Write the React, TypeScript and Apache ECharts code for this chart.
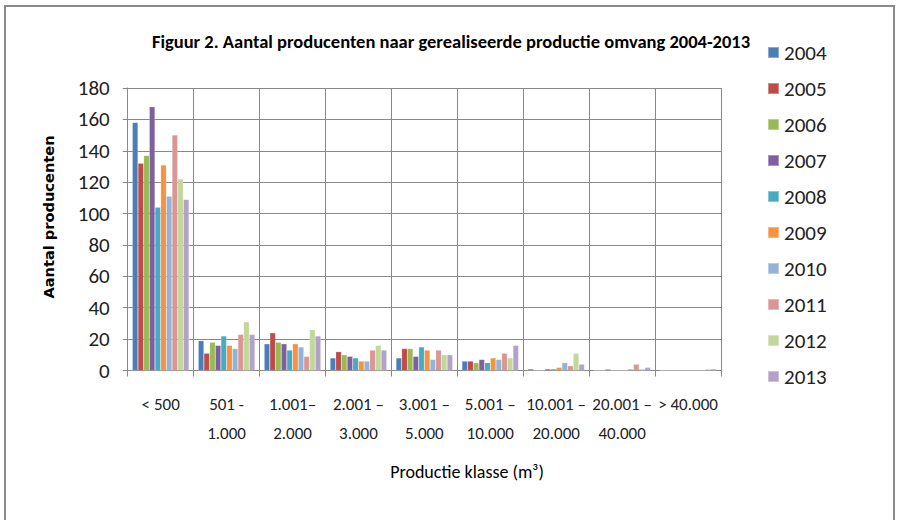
import React, { useEffect, useRef } from "react";
import * as echarts from "echarts";

const categories = [
  "< 500",
  "501 -\n1.000",
  "1.001–\n2.000",
  "2.001 –\n3.000",
  "3.001 –\n5.000",
  "5.001 –\n10.000",
  "10.001 –\n20.000",
  "20.001 –\n40.000",
  "> 40.000",
];

const years = ["2004", "2005", "2006", "2007", "2008", "2009", "2010", "2011", "2012", "2013"];

const v2004 = [158, 19, 17, 8, 8, 6, 1, 0, 0];
const v2005 = [132, 11, 24, 12, 14, 6, 0, 0, 0];
const v2006 = [137, 18, 18, 10, 14, 5, 0, 1, 0];
const v2007 = [168, 16, 17, 9, 9, 7, 1, 0, 0];
const v2008 = [104, 22, 13, 8, 15, 5, 1, 0, 0];
const v2009 = [131, 16, 17, 6, 13, 8, 2, 0, 0];
const v2010 = [111, 14, 15, 6, 7, 7, 5, 1, 0];
const v2011 = [150, 23, 9, 13, 13, 11, 3, 4, 0];
const v2012 = [122, 31, 26, 16, 10, 8, 11, 1, 1];
const v2013 = [109, 23, 22, 13, 10, 16, 4, 2, 1];

const seriesValues = [v2004, v2005, v2006, v2007, v2008, v2009, v2010, v2011, v2012, v2013];

const colors = [
  "#4A7EBB",
  "#BE4B48",
  "#98B954",
  "#7D60A0",
  "#46AAC5",
  "#F69240",
  "#95B3D7",
  "#D99694",
  "#C3D69B",
  "#B3A2C7",
];

const FONT = "Carlito, Lato, sans-serif";

export default function App() {
  const ref = useRef<HTMLDivElement>(null);
  useEffect(() => {
    if (!ref.current) return;
    const chart = echarts.init(ref.current, undefined, { renderer: "svg" });
    chart.setOption({
      animation: false,
      backgroundColor: "#ffffff",
      color: colors,
      title: {
        text: "Figuur 2. Aantal producenten naar gerealiseerde productie omvang 2004-2013",
        left: 451,
        textAlign: "center",
        top: 32,
        padding: 0,
        textStyle: { fontFamily: FONT, fontSize: 18.5, fontWeight: "bold", color: "#000" },
      },
      legend: {
        orient: "vertical",
        left: 767,
        top: 42,
        padding: 0,
        itemWidth: 11,
        itemHeight: 11,
        itemGap: 15,
        icon: "rect",
        data: years,
        textStyle: { fontFamily: FONT, fontSize: 21, lineHeight: 21, color: "#222" },
      },
      graphic: [
        {
          type: "rect",
          shape: { x: 5, y: 6, width: 889, height: 530 },
          style: { fill: "none", stroke: "#8a8a8a", lineWidth: 2 },
          silent: true,
        },
        {
          type: "text",
          x: 467,
          y: 472,
          style: {
            text: "Productie klasse (m³)",
            fontFamily: FONT,
            fontSize: 18,
            fill: "#000",
            align: "center",
            verticalAlign: "middle",
          },
        },
        {
          type: "text",
          x: 48,
          y: 217,
          rotation: Math.PI / 2,
          style: {
            text: "Aantal producenten",
            fontFamily: "'DejaVu Sans', sans-serif",
            fontSize: 14.6,
            fontWeight: "bold",
            fill: "#000",
            align: "center",
            verticalAlign: "middle",
          },
        },
      ],
      grid: { left: 127.7, top: 88, width: 593.3, height: 282.5 },
      xAxis: {
        type: "category",
        data: categories,
        axisLine: { lineStyle: { color: "#888", width: 1 } },
        axisTick: { show: true, length: 6, lineStyle: { color: "#888" } },
        splitLine: { show: true, lineStyle: { color: "#888", width: 1 } },
        axisLabel: {
          interval: 0,
          margin: 19,
          fontFamily: FONT,
          fontSize: 17,
          lineHeight: 29,
          color: "#222",
        },
      },
      yAxis: {
        type: "value",
        min: 0,
        max: 180,
        interval: 20,
        axisLine: { show: true, lineStyle: { color: "#888", width: 1 } },
        axisTick: { show: true, length: 5, lineStyle: { color: "#888" } },
        splitLine: { show: true, lineStyle: { color: "#888", width: 1 } },
        axisLabel: { margin: 18, fontFamily: FONT, fontSize: 21, color: "#222" },
      },
      series: years.map((y, i) => ({
        name: y,
        type: "bar",
        data: seriesValues[i],
        barGap: "0%",
        barCategoryGap: "14%",
        itemStyle: { borderColor: "rgba(255,255,255,0.35)", borderWidth: 0.5 },
      })),
    });
    return () => chart.dispose();
  }, []);
  return (
    <div
      ref={ref}
      style={{ position: "fixed", left: 0, top: 0, width: 899, height: 520, background: "#fff" }}
    />
  );
}
